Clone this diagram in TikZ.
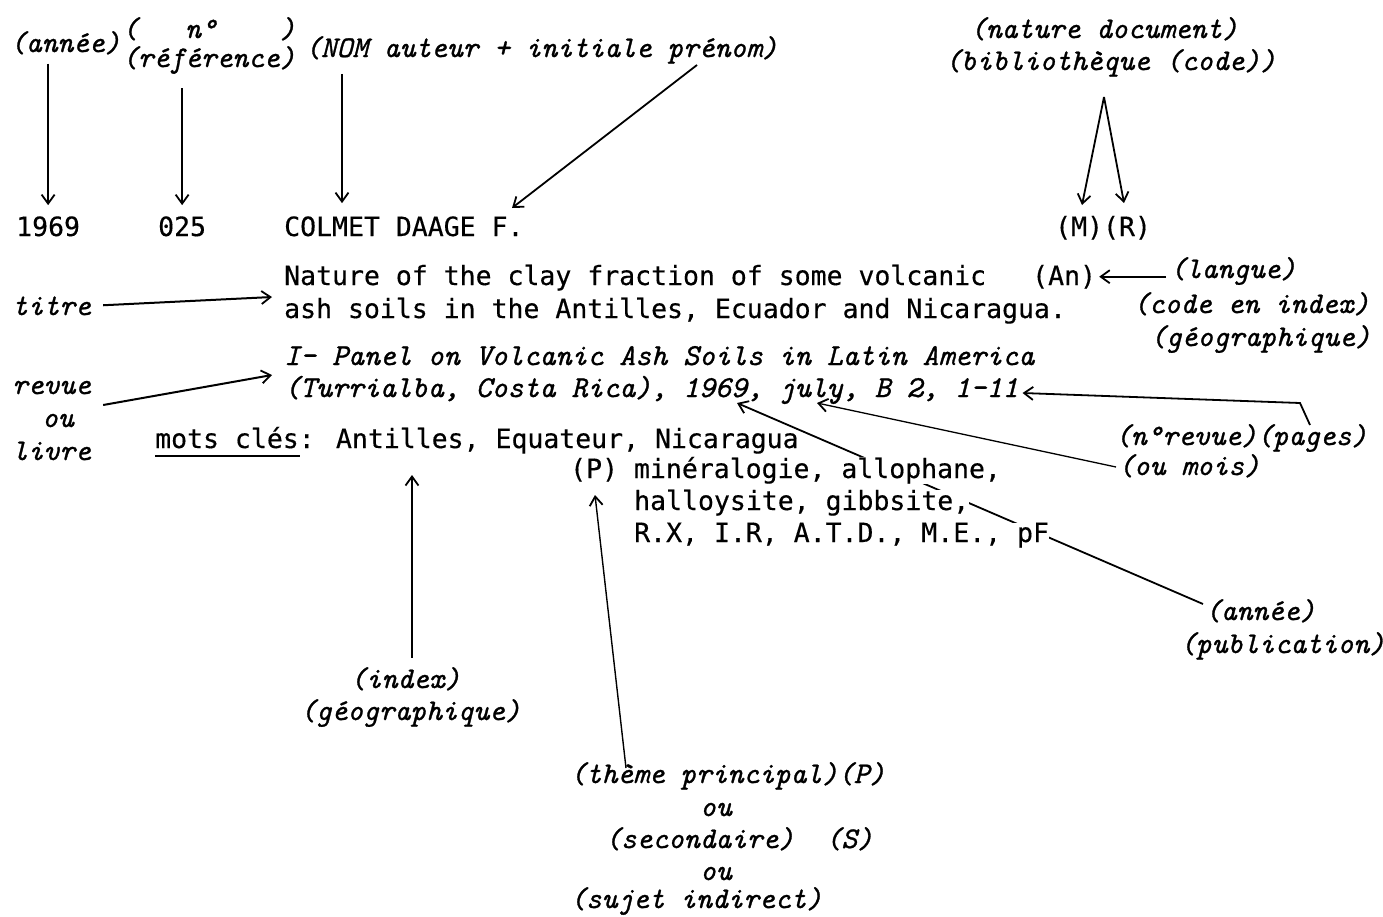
\documentclass[tikz,border=0pt]{standalone}
\usepackage{fontspec}
\usetikzlibrary{arrows.meta,calc}
\newfontfamily\txtfam{DejaVu Sans Mono}[FakeBold=0.4]
\newfontfamily\labfam{lmmono10-italic.otf}[FakeBold=1.0]
\newcommand\txtf{\txtfam\fontsize{26.5}{30}\selectfont}
\newcommand\labf{\labfam\fontsize{30}{34}\selectfont}
\newcommand\revf{\labfam\fontsize{30.4}{34}\selectfont}
\pgfdeclarelayer{bg}
\pgfsetlayers{bg,main}
\tikzset{
  txt/.style={font=\txtf, inner sep=0pt, anchor=base west},
  lab/.style={font=\labf, inner sep=0pt, anchor=base west},
  rev/.style={font=\revf, inner sep=0pt, anchor=base west},
  arr/.style={line width=1.8pt, -{Straight Barb[length=9pt,width=13pt,line width=1.8pt]}},
  uline/.style={line width=2.4pt},
}
\begin{document}
\begin{tikzpicture}[x=1pt,y=-1pt]
\useasboundingbox (0,0) rectangle (1383,916);

% top labels
\node[lab] (annee) at (10,52) {(année)};
\node[lab] (nref1) at (122,38) {(~~~n°~~~~)};
\node[lab] (nref2) at (122,67) {(référence)};
\node[lab] (nom) at (305,57) {(NOM auteur + initiale prénom)};
\node[lab] (natdoc) at (970,38) {(nature document)};
\node[lab] (biblio) at (945,70) {(bibliothèque (code))};

% first record line
\node[txt] (n1969) at (16,236) {1969};
\node[txt] (n025) at (158,236) {025};
\node[txt] (auteur) at (284,236) {COLMET DAAGE F.};
\node[txt] (mr) at (1055,236) {(M)(R)};

% title
\node[txt] (tit1) at (284,285) {Nature of the clay fraction of some volcanic};
\node[txt] (an) at (1032,285) {(An)};
\node[lab] (langue) at (1170,278) {(langue)};
\node[lab] (titre) at (12,315) {titre};
\node[txt] (tit2) at (284,318) {ash soils in the Antilles, Ecuador and Nicaragua.};
\node[lab] (codeidx) at (1133,313) {(code en index)};
\node[lab] (geo1) at (1150,346) {(géographique)};

% journal
\node[rev] (rev1) at (284,365) {I- Panel on Volcanic Ash Soils in Latin America};
\node[rev] (rev2) at (284,397) {(Turrialba, Costa Rica), 1969, july, B 2, 1-11};
\node[lab] (revue) at (12,394) {revue};
\node[lab] (ou1) at (42,427) {ou};
\node[lab] (livre) at (12,460) {livre};

% keywords
\node[txt] (mots) at (155,448) {mots clés: Antilles, Equateur, Nicaragua};
\node[txt,fill=white] (p1) at (570,478) {(P) minéralogie, allophane,};
\node[txt,fill=white] (p2) at (634,510) {halloysite, gibbsite,};
\node[txt,fill=white] (p3) at (634,542) {R.X, I.R, A.T.D., M.E., pF};

% right labels
\node[lab] (nrev) at (1115,445) {(n°revue)(pages)};
\node[lab] (mois) at (1118,475) {(ou mois)};
\node[lab] (anpub) at (1205,620) {(année)};
\node[lab] (publi) at (1180,653) {(publication)};

% bottom labels
\node[lab] (index) at (350,688) {(index)};
\node[lab] (geo2) at (300,720) {(géographique)};
\node[lab] (theme) at (570,783) {(thème principal)(P)};
\node[lab] (ou2) at (700,816) {ou};
\node[lab] (second) at (605,848) {(secondaire)~~(S)};
\node[lab] (ou3) at (700,880) {ou};
\node[lab] (sujet) at (570,908) {(sujet indirect)};

% coordinates
\coordinate (nomx) at (342,236);
\coordinate (prenom) at ($(nom.base west)+(392,8)$);
\coordinate (ftip) at ($(auteur.base west)+(228,-28)$);
\coordinate (peak) at ($(biblio.base west)+(159,27)$);
\coordinate (mtip) at ($(mr.base west)+(27,-31)$);
\coordinate (rtip) at ($(mr.base west)+(69,-33)$);
\coordinate (titpt) at ($(tit2.base west)+(-12,-21)$);
\coordinate (revst) at ($(revue.base east)+(12,11)$);
\coordinate (revpt) at ($(rev2.base west)+(-12,-22)$);
\coordinate (pgst) at ($(nrev.base west)+(195,-20)$);
\coordinate (pgbend) at ($(nrev.base west)+(185,-42)$);
\coordinate (pgtip) at ($(rev2.base east)+(4,-4)$);
\coordinate (moisst) at ($(mois.base west)+(-2,-8)$);
\coordinate (julytip) at ($(rev2.base west)+(533,6)$);
\coordinate (anst) at ($(anpub.base west)+(-2,-16)$);
\coordinate (yrtip) at ($(rev2.base west)+(453,6)$);
\coordinate (idxst) at ($(index.north west)+(62,-9)$);
\coordinate (idxtip) at ($(mots.base west)+(257,27)$);
\coordinate (thst) at ($(theme.base west)+(56,-15)$);
\coordinate (ptip) at ($(p1.base west)+(25,17)$);

% connectors
\draw[arr, shorten <=9pt, shorten >=11pt] (annee.south -| n1969.north) -- (n1969.north);
\draw[arr, shorten <=14pt, shorten >=11pt] (nref2.south -| n025.north) -- (n025.north);
\draw[arr, shorten <=10pt, shorten >=13pt] (nom.south -| nomx) -- (auteur.north -| nomx);
\draw[arr] (prenom) -- (ftip);
\draw[arr] (peak) -- (mtip);
\draw[arr] (peak) -- (rtip);
\draw[arr, shorten <=4pt, shorten >=3pt] (langue.west |- an.center) -- (an.east);
\draw[arr, line width=2pt, shorten <=12pt] (titre.east) -- (titpt);
\draw[arr, line width=2pt] (revst) -- (revpt);
\draw[arr] (pgst) -- (pgbend) -- (pgtip);
\draw[arr, line width=1.3pt] (moisst) -- (julytip);
\begin{pgfonlayer}{bg}
\draw[arr] (anst) -- (yrtip);
\end{pgfonlayer}
\draw[arr] (idxst) -- (idxtip);
\draw[arr, line width=1.4pt] (thst) -- (ptip);
\draw[uline] ($(mots.base west)+(0,8)$) -- ++(145,0);
\end{tikzpicture}
\end{document}
